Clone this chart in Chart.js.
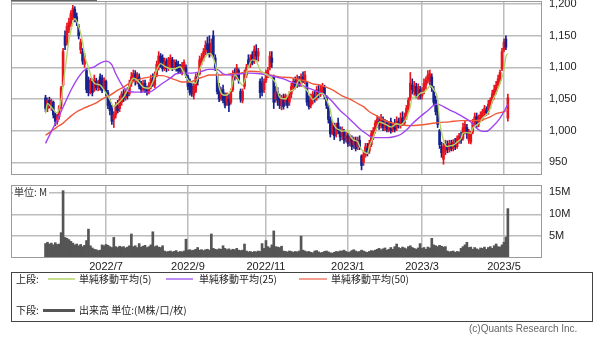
<!DOCTYPE html>
<html><head><meta charset="utf-8">
<script src="https://cdn.jsdelivr.net/npm/chart.js@4.4.0/dist/chart.umd.min.js"></script>
<style>
html,body{margin:0;padding:0;background:#fff;}
#wrap{position:relative;width:600px;height:340px;overflow:hidden;font-family:'Noto Sans CJK JP','Liberation Sans',sans-serif;color:#222;}
canvas{position:absolute;left:0;}
#pc{top:0;}
#vc{top:178px;}
.t{position:absolute;font-size:10px;line-height:12px;white-space:nowrap;}
.ln{position:absolute;}
#unit{left:13px;top:186px;background:#fff;padding:0 2px 0 1px;color:#333;}
#legend{position:absolute;left:11px;top:272px;width:582px;height:50px;border:1px solid #444;box-sizing:border-box;}
#copy{left:469px;top:323px;font-family:'Liberation Sans',sans-serif;color:#666;font-size:10px;}
#topbar{position:absolute;left:11px;top:0;width:86px;height:1px;background:#666;}
</style></head>
<body><div id="wrap">
<canvas id="pc" width="600" height="178"></canvas>
<canvas id="vc" width="600" height="100"></canvas>
<div id="topbar"></div>
<div class="t" id="unit">単位: M</div>
<div id="legend"></div>
<div class="t" style="left:16px;top:273px">上段:</div>
<div class="ln" style="left:48px;top:278px;width:27px;height:2px;background:#c6e08f"></div>
<div class="t" style="left:79px;top:273px">単純移動平均(5)</div>
<div class="ln" style="left:166px;top:278px;width:27px;height:2px;background:#bd8cf5"></div>
<div class="t" style="left:199px;top:273px">単純移動平均(25)</div>
<div class="ln" style="left:299px;top:278px;width:28px;height:2px;background:#f5a08e"></div>
<div class="t" style="left:331px;top:273px">単純移動平均(50)</div>
<div class="t" style="left:16px;top:304px">下段:</div>
<div class="ln" style="left:43px;top:309px;width:32px;height:3px;background:#555"></div>
<div class="t" style="left:79px;top:304px">出来高 単位:(M株/口/枚)</div>
<div class="t" id="copy">(c)Quants Research Inc.</div>
</div>
<script>
// ---- data (trading-day index 0 = 2022/5/18 ... 237 = 2023/5/2) ----
const opens = [
1052,1035,1048,1040,1045,1025,1014,1022,1040,1072,
1150,1138,1160,1170,1180,1192,1180,1165,1128,1125,
1105,1095,1080,1062,1078,1065,1078,1068,1085,1082,
1070,1078,1060,1045,1035,1018,1025,1040,1035,1045,
1058,1052,1060,1058,1075,1082,1090,1078,1085,1072,
1065,1075,1064,1060,1070,1080,1072,1088,1100,1118,
1115,1100,1110,1098,1105,1112,1102,1108,1105,1100,
1092,1098,1100,1085,1078,1070,1056,1062,1085,1090,
1108,1115,1125,1138,1135,1120,1150,1115,1090,1070,
1052,1065,1055,1045,1050,1045,1065,1092,1085,1095,
1062,1048,1070,1088,1112,1105,1120,1110,1125,1118,
1078,1075,1065,1080,1088,1100,1115,1085,1050,1062,
1050,1040,1050,1045,1048,1045,1058,1068,1078,1072,
1080,1074,1085,1078,1075,1048,1040,1048,1055,1052,
1062,1058,1062,1068,1052,1038,1018,1000,1008,995,
1012,1000,992,998,988,992,982,988,978,985,
975,985,960,950,962,972,968,978,992,1000,
1010,1015,1008,1018,1005,1012,1002,1015,1002,1010,
1005,1015,1008,1020,1012,1022,1035,1050,1072,1062,
1070,1058,1065,1055,1062,1072,1080,1078,1085,1065,
1048,1035,1000,975,955,968,978,970,978,972,
980,975,985,990,988,1000,1005,985,982,998,
1015,1022,1010,1018,1022,1028,1032,1030,1040,1048,
1056,1062,1072,1080,1098,1128,1145,1020];
const highs = [
1056,1052,1053,1050,1047,1028,1026,1040,1070,1130,
1158,1170,1178,1190,1198,1196,1186,1168,1145,1130,
1122,1098,1085,1083,1082,1088,1083,1080,1090,1088,
1084,1080,1064,1050,1040,1030,1045,1048,1055,1062,
1065,1066,1068,1080,1092,1096,1095,1092,1090,1078,
1080,1080,1070,1076,1088,1090,1093,1110,1125,1122,
1120,1115,1114,1116,1120,1116,1112,1112,1110,1105,
1108,1112,1104,1088,1082,1075,1075,1090,1092,1118,
1122,1130,1142,1148,1150,1145,1158,1120,1092,1075,
1068,1072,1060,1060,1058,1066,1095,1098,1105,1098,
1066,1066,1096,1105,1120,1120,1125,1134,1136,1130,
1082,1085,1082,1096,1100,1125,1125,1088,1070,1068,
1058,1056,1058,1058,1056,1062,1075,1082,1085,1088,
1086,1090,1093,1094,1078,1055,1058,1062,1062,1070,
1072,1072,1075,1072,1056,1040,1022,1015,1012,1012,
1020,1006,1006,1002,998,996,994,992,990,990,
990,992,962,968,980,980,985,1000,1005,1016,
1024,1022,1026,1022,1018,1016,1015,1020,1012,1018,
1022,1020,1028,1030,1028,1040,1052,1092,1082,1078,
1075,1074,1070,1068,1082,1085,1095,1096,1090,1070,
1055,1040,1002,982,980,985,984,985,985,986,
988,992,996,998,1012,1015,1010,1002,999,1018,
1028,1028,1025,1030,1034,1040,1038,1048,1052,1064,
1072,1078,1088,1096,1130,1145,1150,1058];
const lows = [
1030,1030,1036,1032,1020,1008,1010,1018,1035,1070,
1128,1135,1155,1165,1175,1172,1166,1145,1122,1105,
1100,1060,1055,1058,1055,1062,1064,1063,1064,1060,
1065,1055,1035,1025,1010,1005,1020,1028,1030,1040,
1046,1048,1050,1055,1070,1078,1072,1074,1066,1060,
1062,1060,1056,1058,1066,1070,1068,1085,1096,1100,
1094,1095,1093,1095,1100,1095,1097,1094,1090,1090,
1088,1094,1084,1065,1056,1054,1050,1060,1072,1088,
1104,1110,1120,1122,1116,1118,1115,1095,1058,1046,
1048,1044,1036,1040,1030,1042,1062,1080,1082,1075,
1045,1044,1066,1084,1100,1100,1104,1106,1112,1110,
1052,1055,1060,1076,1084,1096,1100,1035,1045,1040,
1035,1033,1034,1040,1036,1040,1052,1064,1066,1068,
1070,1070,1076,1074,1040,1034,1036,1042,1045,1048,
1052,1054,1058,1050,1035,1012,990,994,986,990,
995,984,986,980,982,975,976,970,972,968,
970,970,938,945,958,960,964,975,986,996,
1005,1002,1004,1000,1000,998,998,996,998,998,
1000,1004,1004,1008,1008,1018,1030,1048,1058,1056,
1052,1050,1050,1050,1058,1066,1075,1072,1062,1040,
1025,1005,972,958,947,962,965,966,968,968,
970,972,980,980,985,995,988,980,979,995,
1008,1005,1006,1014,1016,1022,1024,1026,1035,1044,
1050,1058,1068,1075,1095,1125,1128,1015];
const closes = [
1035,1048,1040,1046,1025,1015,1022,1038,1068,1125,
1135,1165,1172,1185,1193,1178,1172,1150,1140,1110,
1118,1065,1060,1075,1060,1080,1068,1076,1068,1064,
1080,1062,1040,1032,1015,1025,1040,1032,1050,1058,
1050,1062,1055,1075,1085,1090,1078,1088,1070,1065,
1075,1066,1060,1072,1082,1075,1088,1105,1118,1110,
1098,1108,1098,1112,1115,1100,1108,1098,1095,1094,
1104,1108,1088,1070,1060,1058,1070,1085,1078,1112,
1115,1125,1135,1128,1120,1138,1120,1100,1062,1050,
1062,1048,1040,1055,1040,1062,1090,1085,1100,1080,
1050,1062,1090,1100,1105,1115,1108,1128,1118,1125,
1060,1062,1078,1092,1095,1118,1108,1045,1060,1048,
1040,1052,1038,1055,1040,1058,1070,1078,1070,1082,
1075,1085,1080,1088,1045,1038,1052,1058,1050,1065,
1058,1066,1070,1055,1040,1018,995,1010,992,1005,
1000,990,1000,985,992,980,990,975,985,972,
985,975,945,962,975,965,980,995,1000,1012,
1018,1008,1020,1005,1012,1002,1010,1000,1008,1002,
1015,1008,1020,1012,1022,1035,1048,1075,1065,1070,
1058,1068,1055,1062,1075,1080,1088,1090,1068,1045,
1030,1010,978,965,975,978,970,980,972,982,
975,988,992,985,1005,1010,995,998,995,1012,
1022,1010,1020,1025,1030,1035,1028,1042,1048,1058,
1065,1072,1082,1092,1125,1140,1132,1052];
const volumes = [
3.3,3.6,3.2,3.4,3.0,3.5,3.1,3.2,5.8,15.4,
4.7,4.5,4.2,3.8,3.4,3.0,3.2,2.8,3.1,2.6,
2.9,4.0,6.6,2.8,2.3,2.0,1.9,1.7,1.8,3.0,
2.8,3.1,2.9,2.6,2.4,4.7,2.6,2.4,2.7,2.5,
2.6,2.3,2.5,2.8,5.5,2.6,2.8,2.4,3.3,2.5,
2.7,2.9,2.4,2.6,3.0,6.0,2.6,2.8,2.5,2.4,
2.8,1.6,1.4,1.5,1.6,1.4,1.5,1.7,1.3,1.5,
1.4,1.6,4.3,1.8,1.9,1.7,1.8,2.0,2.4,1.8,
1.9,1.7,1.9,2.0,1.8,5.5,2.2,2.0,1.9,2.1,
2.0,2.8,2.2,1.9,2.1,1.8,2.0,1.9,2.2,1.8,
1.7,1.8,3.2,1.6,1.4,1.5,1.3,1.5,1.4,1.6,
1.5,3.3,2.2,4.0,2.6,2.3,3.0,6.2,2.6,2.5,
2.4,2.7,1.6,1.5,1.4,1.6,1.5,1.3,1.5,1.4,
1.6,5.0,1.8,1.6,1.4,1.5,1.3,1.2,1.6,1.7,
1.4,1.2,1.3,1.5,1.6,1.4,1.2,1.1,1.3,1.5,
1.4,1.6,1.6,1.8,1.5,1.3,1.4,1.7,1.9,1.6,
1.4,1.5,1.8,1.6,1.4,1.3,1.5,1.7,1.6,1.8,
2.0,2.2,1.9,2.1,2.3,1.8,2.0,2.4,2.0,2.6,
3.2,2.4,2.2,2.5,2.3,2.1,2.6,2.8,2.4,2.2,
2.0,2.3,3.3,2.2,2.4,2.0,2.5,2.3,4.5,3.0,
2.8,2.6,2.9,2.7,2.5,2.6,1.6,1.4,1.5,1.6,
1.3,1.5,1.4,2.2,2.6,3.0,3.6,2.4,2.5,2.0,
2.4,2.1,1.9,2.3,2.2,2.5,2.0,2.4,2.6,2.2,
2.8,3.2,2.6,2.5,3.0,3.6,4.8,11.3];
// moving averages: [day index, value]
const ma5 = [[0,1027],[1,1043],[3,1037],[6,1028],[8,1049],[10,1096],[12,1143],[14,1170],[15,1177],[17,1165],[19,1140],[20,1120],[22,1100],[24,1080],[25,1075],[28,1072],[30,1064],[33,1049],[35,1038],[37,1043],[40,1053],[42,1064],[45,1083],[47,1080],[50,1069],[53,1067],[55,1077],[57,1096],[59,1106],[61,1102],[64,1098],[66,1098],[69,1101],[71,1091],[74,1077],[77,1075],[79,1096],[82,1117],[84,1122],[86,1115],[88,1091],[89,1069],[92,1056],[95,1064],[97,1088],[100,1075],[101,1072],[104,1101],[106,1112],[108,1110],[110,1096],[112,1091],[115,1085],[118,1075],[120,1053],[123,1050],[125,1061],[128,1067],[130,1080],[132,1070],[134,1064],[136,1053],[137,1049],[139,1054],[141,1059],[142,1059],[144,1049],[146,1033],[147,1016],[149,1004],[151,1001],[152,999],[155,1001],[156,993],[158,985],[160,983],[161,975],[163,967],[165,964],[166,975],[168,990],[170,1006],[171,1014],[173,1012],[175,1009],[177,1006],[178,1007],[180,1011],[182,1009],[183,1011],[185,1020],[187,1038],[188,1053],[190,1053],[192,1059],[194,1061],[196,1067],[197,1071],[199,1065],[201,1049],[202,1016],[204,985],[206,975],[207,976],[209,977],[211,982],[213,988],[214,996],[216,997],[218,996],[219,1004],[221,1009],[223,1014],[224,1020],[226,1025],[228,1035],[229,1046],[231,1059],[233,1075],[235,1096],[236,1117],[237,1122]];
const ma25 = [[0,980],[3,999],[6,1017],[10,1044],[13,1064],[17,1085],[20,1096],[25,1101],[28,1107],[31,1110],[34,1104],[36,1090],[39,1073],[41,1065],[46,1061],[53,1061],[57,1068],[60,1075],[64,1083],[67,1090],[71,1091],[75,1091],[79,1093],[84,1097],[88,1097],[91,1090],[95,1088],[100,1090],[105,1091],[110,1090],[114,1088],[118,1085],[122,1082],[125,1078],[130,1073],[136,1066],[141,1060],[144,1055],[147,1046],[151,1032],[155,1021],[158,1012],[161,1003],[165,994],[168,989],[171,989],[175,989],[178,990],[182,994],[185,1001],[188,1011],[192,1022],[196,1032],[199,1040],[201,1042],[204,1038],[207,1033],[211,1027],[214,1022],[218,1014],[221,1004],[224,999],[226,999],[229,1006],[233,1020],[236,1036],[237,1042]];
const ma50 = [[0,993],[2,997],[6,1006],[9,1012],[13,1023],[16,1030],[20,1036],[23,1040],[26,1044],[29,1050],[33,1056],[37,1064],[40,1069],[43,1075],[47,1080],[50,1083],[54,1085],[57,1087],[60,1087],[64,1083],[67,1080],[70,1077],[74,1077],[78,1082],[81,1085],[84,1088],[88,1088],[91,1088],[95,1090],[100,1091],[105,1094],[110,1093],[115,1088],[120,1085],[125,1084],[130,1081],[134,1078],[137,1074],[141,1072],[146,1066],[149,1061],[152,1055],[156,1050],[160,1043],[163,1038],[166,1030],[170,1023],[173,1017],[177,1013],[180,1011],[183,1009],[187,1008],[192,1009],[197,1011],[202,1013],[207,1014],[213,1016],[218,1016],[223,1017],[228,1022],[231,1027],[235,1030],[237,1033]];
const monthIdx = [31,73,113,155,193,235];
const monthLabels = ['2022/7','2022/9','2022/11','2023/1','2023/3','2023/5'];
const priceTicks = [950,1000,1050,1100,1150,1200];
const volTicks = [5,10,15];

// ---- rendering ----
const X_MIN = -17.7, X_MAX = 254.5;
const UP = '#e8141e', DOWN = '#16238f';
const GRID = '#bcbcbc', FRAME = '#9a9a9a';
const tickFont = {family:'Liberation Sans', size:11};
const candleColors = opens.map((o,i) => closes[i] >= o ? UP : DOWN);

const framePlugin = {
  id:'frame',
  afterDraw(chart){
    const {ctx, chartArea:a} = chart;
    ctx.save();
    ctx.strokeStyle = FRAME; ctx.lineWidth = 1;
    ctx.strokeRect(a.left+0.5, a.top+0.5, a.right-a.left-1, a.bottom-a.top-1);
    ctx.restore();
  }
};
function noPad(s){ s.paddingTop = 0; s.paddingBottom = 0; s.paddingLeft = 0; s.paddingRight = 0; }

function xScale(showLabels){
  return {
    type:'linear', min:X_MIN, max:X_MAX, offset:false,
    grid:{color:GRID, lineWidth:1.5, drawTicks:false, offset:false},
    border:{display:false},
    afterBuildTicks: s => { s.ticks = monthIdx.map(v => ({value:v})); },
    ticks: showLabels ? {
      autoSkip:false, maxRotation:0, padding:2, color:'#222',
      font:{family:'Liberation Sans', size:11},
      callback: v => monthLabels[monthIdx.indexOf(v)]
    } : {display:false},
    afterFit: s => { s.height = showLabels ? 20 : 0; noPad(s); }
  };
}
function yScale(min, max, ticks, fmt){
  return {
    position:'right', min, max,
    grid:{color:GRID, lineWidth:1.5, drawTicks:false}, border:{display:false},
    afterBuildTicks: s => { s.ticks = ticks.map(v => ({value:v})); },
    ticks:{font:tickFont, color:'#222', padding:7, callback: fmt},
    afterFit: s => { s.width = 58; noPad(s); }
  };
}
const lineDs = (pts, color) => ({
  type:'line', data: pts.map(p => ({x:p[0], y:p[1]})), borderColor:color,
  borderWidth:1.4, pointRadius:0, cubicInterpolationMode:'monotone', fill:false, order:0
});

new Chart(document.getElementById('pc'), {
  type:'bar',
  data:{datasets:[
    lineDs(ma5, '#b3d46a'),
    lineDs(ma25, '#a244f2'),
    lineDs(ma50, '#f0583a'),
    {type:'bar', data: opens.map((o,i) => ({x:i, y:[o, closes[i]]})), backgroundColor:candleColors,
     barThickness:2, minBarLength:1, grouped:false, order:1},
    {type:'bar', data: highs.map((h,i) => ({x:i, y:[lows[i], h]})), backgroundColor:candleColors,
     barThickness:1, grouped:false, order:2}
  ]},
  options:{
    responsive:false, animation:false,
    layout:{padding:{left:11, top:1, right:0, bottom:3}},
    plugins:{legend:{display:false}, tooltip:{enabled:false}},
    scales:{
      x: xScale(false),
      y: yScale(930, 1205, priceTicks, v => v.toLocaleString('en-US'))
    }
  },
  plugins:[framePlugin]
});

new Chart(document.getElementById('vc'), {
  type:'bar',
  data:{datasets:[
    {data: volumes.map((v,i) => ({x:i, y:v})), backgroundColor:'#555555', barThickness:2, grouped:false}
  ]},
  options:{
    responsive:false, animation:false,
    layout:{padding:{left:11, top:7, right:0, bottom:0}},
    plugins:{legend:{display:false}, tooltip:{enabled:false}},
    scales:{
      x: xScale(true),
      y: yScale(0, 16.7, volTicks, v => v + 'M')
    }
  },
  plugins:[framePlugin]
});
</script>
</body></html>
